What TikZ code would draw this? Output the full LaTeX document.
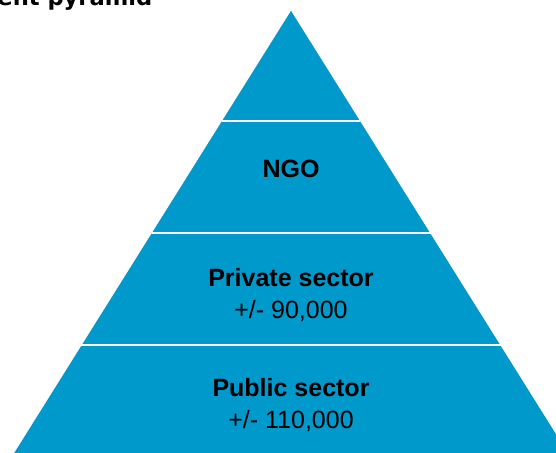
\documentclass[tikz,border=0pt]{standalone}
\usepackage{fontspec}
\setmainfont{Liberation Sans}
\newfontfamily\titlefont{DejaVu Sans}
\definecolor{pyrblue}{RGB}{0,153,204}
\begin{document}
\begin{tikzpicture}[x=1pt,y=-1pt,
  band/.style={fill=pyrblue,draw=white,line width=0.6pt,line join=miter},
  sep/.style={draw=white,line width=1.6pt},
  lblbold/.style={font=\fontsize{25}{30}\selectfont\bfseries,text=black,anchor=base,inner sep=0pt},
  lblnum/.style={font=\fontsize{25}{30}\selectfont,text=black,anchor=base,inner sep=0pt},
  titlestyle/.style={font=\titlefont\fontsize{22.6}{27}\selectfont\bfseries,text=black,anchor=base east,inner sep=0pt}]
\useasboundingbox (0,0) rectangle (556,452);
\clip (0,0) rectangle (556,452);
% corner coordinates
\coordinate (apex) at (291,10);
\coordinate (l1) at (221.5,121); \coordinate (r1) at (360.5,121);
\coordinate (l2) at (151.4,233); \coordinate (r2) at (430.6,233);
\coordinate (l3) at (81.3,345);  \coordinate (r3) at (500.7,345);
\coordinate (l4) at (11.2,457);  \coordinate (r4) at (570.8,457);
% bands
\path[band] (apex) -- (r1) -- (l1) -- cycle;
\path[band] (l1) -- (r1) -- (r2) -- (l2) -- cycle;
\path[band] (l2) -- (r2) -- (r3) -- (l3) -- cycle;
\path[band] (l3) -- (r3) -- (r4) -- (l4) -- cycle;
% separators
\draw[sep] (l1) -- (r1);
\draw[sep] (l2) -- (r2);
\draw[sep] (l3) -- (r3);
% labels
\node[lblbold] (ngo) at (291,177) {NGO};
\node[lblbold] (priv) at (291,286) {Private sector};
\node[lblnum] (privnum) at (291,318) {+/- 90,000};
\node[lblbold] (pub) at (291,396) {Public sector};
\node[lblnum] (pubnum) at (291,428) {+/- 110,000};
% title (cut off at top)
\node[titlestyle] (title) at (152.5,6) {ent pyramid};
\end{tikzpicture}
\end{document}
